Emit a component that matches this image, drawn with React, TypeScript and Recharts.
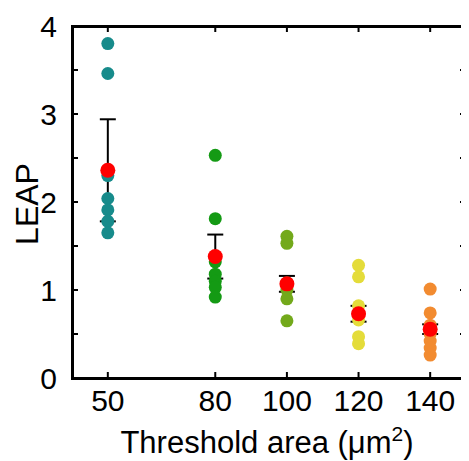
import { ScatterChart, Scatter, XAxis, YAxis, ErrorBar } from 'recharts';

// threshold areas (µm²)
const areas = [50, 80, 100, 120, 140];
const xTicks = [50, 80, 100, 120, 140];
const yTicks = [0, 0.5, 1, 1.5, 2, 2.5, 3, 3.5, 4];
const xDomain = [40, 150];
const yDomain = [0, 4];

// individual LEAP values per threshold
const leap50 = [3.8, 3.46, 2.3, 2.04, 1.91, 1.78, 1.65];
const leap80 = [2.53, 1.81, 1.32, 1.18, 1.1, 1.03, 0.92];
const leap100 = [1.61, 1.53, 1.08, 1.0, 0.9, 0.65];
const leap120 = [1.28, 1.15, 0.82, 0.66, 0.47, 0.39];
const leap140 = [1.01, 0.74, 0.6, 0.5, 0.42, 0.34, 0.26];

const means = [2.36, 1.38, 1.07, 0.73, 0.555];
const errors = [0.58, 0.25, 0.09, 0.09, 0.055];

const groupColors = ['#178b8b', '#149a14', '#73a91b', '#e4dc3a', '#f28b30'];

const groups = [leap50, leap80, leap100, leap120, leap140].map((vals, i) =>
  vals.map((v) => ({ x: areas[i], y: v }))
);
const meanData = areas.map((a, i) => ({ x: a, y: means[i], err: errors[i] }));

const font = '"Liberation Sans", Arial, sans-serif';

// layout
const W = 461;
const H = 453;
const margin = { top: 16, right: 1, bottom: 0, left: 0 };
const yAxisW = 64;
const xAxisH = 83;
const sideAxis = 2;
const plot = {
  left: margin.left + yAxisW,
  top: margin.top + sideAxis,
  width: W - margin.left - margin.right - yAxisW - sideAxis,
  height: H - margin.top - margin.bottom - xAxisH - sideAxis,
};
const frameW = 3;

const dot = (color: string, r: number) => (p: any) =>
  <circle cx={p.cx} cy={p.cy} r={r} fill={color} />;
const noDot = () => <g />;
const noTick = () => <g />;

export default function App() {
  return (
    <div style={{ position: 'relative', width: W, height: H, fontFamily: font }}>
      <ScatterChart width={W} height={H} margin={margin}>
        <XAxis
          type="number"
          dataKey="x"
          domain={xDomain}
          ticks={xTicks}
          stroke="#000"
          strokeWidth={2}
          tickSize={-6}
          tickMargin={18}
          height={xAxisH}
          tick={{ fill: '#000', fontSize: 30, fontFamily: font, stroke: 'none' }}
          label={{
            content: () => (
              <text x={259} y={445} textAnchor="middle" fontSize={31} fontFamily={font} fill="#000">
                Threshold area (μm<tspan dy={-12} fontSize={21}>2</tspan><tspan dy={12}>)</tspan>
              </text>
            ),
          }}
        />
        <XAxis
          xAxisId="top"
          orientation="top"
          type="number"
          dataKey="x"
          domain={xDomain}
          ticks={xTicks}
          stroke="#000"
          strokeWidth={2}
          tickSize={-6}
          height={sideAxis}
          tick={noTick}
        />
        <YAxis
          type="number"
          dataKey="y"
          domain={yDomain}
          ticks={yTicks}
          interval={0}
          stroke="#000"
          strokeWidth={2}
          tickSize={-6}
          tickMargin={21}
          width={yAxisW}
          tickFormatter={(v: number) => (Number.isInteger(v) ? String(v) : '')}
          tick={{ fill: '#000', fontSize: 30, fontFamily: font, stroke: 'none' }}
          label={{
            content: () => (
              <text x={19} y={196} transform="rotate(-90 19 196)" textAnchor="middle" dominantBaseline="central" fontSize={32} fontFamily={font} fill="#000">
                LEAP
              </text>
            ),
          }}
        />
        <YAxis
          yAxisId="right"
          orientation="right"
          type="number"
          dataKey="y"
          domain={yDomain}
          ticks={yTicks}
          interval={0}
          stroke="#000"
          strokeWidth={2}
          tickSize={-6}
          width={sideAxis}
          tick={noTick}
        />
        <Scatter data={meanData} xAxisId="top" yAxisId="right" shape={noDot} isAnimationActive={false} />
        {groups.map((g, i) => (
          <Scatter key={areas[i]} data={g} shape={dot(groupColors[i], 6.5)} isAnimationActive={false} />
        ))}
        <Scatter data={meanData} shape={noDot} isAnimationActive={false}>
          <ErrorBar dataKey="err" direction="y" width={8} strokeWidth={2} stroke="#000" />
        </Scatter>
        <Scatter data={meanData} shape={dot('#ff0000', 7.5)} isAnimationActive={false} zIndex={2000} />
      </ScatterChart>
      {/* plot frame */}
      <div
        style={{
          position: 'absolute',
          zIndex: 10,
          left: plot.left - frameW / 2,
          top: plot.top - frameW / 2,
          width: plot.width + frameW,
          height: plot.height + frameW,
          border: `${frameW}px solid #000`,
          boxSizing: 'border-box',
          pointerEvents: 'none',
        }}
      />
    </div>
  );
}
